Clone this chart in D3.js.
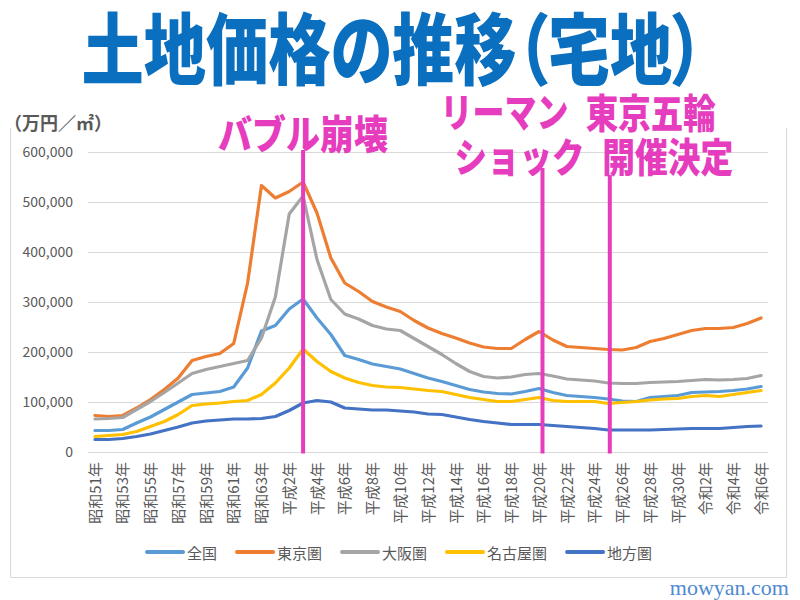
<!DOCTYPE html>
<html><head><meta charset="utf-8">
<script src="https://cdn.jsdelivr.net/npm/d3@7"></script>
<style>
html,body{margin:0;padding:0;background:#fff;}
svg{display:block;font-family:"Noto Sans CJK JP","Noto Sans",sans-serif;}
</style></head>
<body>
<script>
// ---- data ----
const categories = [
 "昭和51年","昭和52年","昭和53年","昭和54年","昭和55年","昭和56年","昭和57年","昭和58年","昭和59年","昭和60年",
 "昭和61年","昭和62年","昭和63年","平成元年","平成2年","平成3年","平成4年","平成5年","平成6年","平成7年",
 "平成8年","平成9年","平成10年","平成11年","平成12年","平成13年","平成14年","平成15年","平成16年","平成17年",
 "平成18年","平成19年","平成20年","平成21年","平成22年","平成23年","平成24年","平成25年","平成26年","平成27年",
 "平成28年","平成29年","平成30年","令和元年","令和2年","令和3年","令和4年","令和5年","令和6年"];
const seriesNames = ["全国","東京圏","大阪圏","名古屋圏","地方圏"];
const zenkoku = [43000,43000,45000,58000,70000,85000,100000,115000,118000,121000,130000,168000,242000,253000,286000,306000,268000,235000,193000,185000,176000,171000,166000,157000,148000,141000,133000,125000,120000,117000,116000,121000,127000,119000,113000,111000,109000,106000,102000,101000,109000,111000,113000,119000,120000,121000,123000,126000,131000];
const tokyo = [73000,71000,73000,88000,105000,125000,148000,183000,191000,197000,217000,338000,533000,508000,521000,540000,478000,388000,338000,321000,301000,290000,281000,263000,248000,237000,228000,218000,210000,207000,207000,225000,241000,224000,211000,209000,207000,205000,204000,209000,221000,227000,235000,243000,247000,247000,249000,257000,268000];
const osaka = [66000,67000,69000,85000,101000,119000,138000,157000,165000,171000,177000,183000,228000,310000,476000,512000,385000,305000,276000,266000,253000,246000,243000,227000,211000,195000,177000,161000,151000,148000,150000,155000,157000,152000,146000,144000,142000,138000,137000,137000,139000,140000,141000,143000,145000,144000,145000,147000,153000];
const nagoya = [31000,33000,35000,41000,51000,61000,75000,93000,96000,98000,101000,103000,115000,138000,168000,206000,181000,161000,148000,139000,133000,130000,129000,126000,123000,121000,115000,109000,105000,101000,101000,105000,109000,103000,101000,101000,101000,97000,99000,101000,104000,106000,107000,111000,113000,111000,115000,119000,123000];
const chiho = [25000,25000,27000,31000,36000,43000,50000,58000,62000,64000,66000,66000,67000,71000,83000,98000,103000,100000,88000,86000,84000,84000,82000,80000,76000,75000,70000,65000,61000,58000,55000,55000,55000,53000,51000,49000,47000,44000,44000,44000,44000,45000,46000,47000,47000,47000,49000,51000,52000];
const seriesColors = ["#5B9BD5","#ED7D31","#A5A5A5","#FFC000","#4472C4"];
const yTicks = [0,100000,200000,300000,400000,500000,600000];
const eventLabels = [["バブル崩壊"],["リーマン","ショック"],["東京五輪","開催決定"]];
const eventAt = [15, 32.25, 37.1];          // category position
const eventTop = [604000, 568000, 554000];   // top of marker line (value units)
const titleText = "土地価格の推移（宅地）";
const unitText = "（万円／㎡）";
const watermark = "mowyan.com";

// ---- drawing ----
const W = 800, H = 600;
const svg = d3.select("body").append("svg").attr("width", W).attr("height", H);
svg.append("rect").attr("width", W).attr("height", H).attr("fill", "#fff");

const x = d3.scaleLinear().domain([-0.5, categories.length - 0.5]).range([88, 768]);
const y = d3.scaleLinear().domain([0, 600000]).range([452, 152]);

// frame
svg.append("path").attr("d", "M10.5,128 V577.5 H786.5 V128")
  .attr("fill", "none").attr("stroke", "#d9d9d9").attr("stroke-width", 1);

// gridlines + y labels
const yAxis = d3.axisLeft(y).tickValues(yTicks).tickFormat(d3.format(",")).tickSize(-680).tickPadding(15);
const gy = svg.append("g").attr("transform", "translate(88,0)").call(yAxis);
gy.select(".domain").remove();
gy.selectAll(".tick line").attr("stroke", "#d9d9d9").attr("stroke-width", 1);
gy.selectAll(".tick text").attr("fill", "#595959").attr("font-size", 14)
  .attr("font-family", "'Noto Sans CJK JP',sans-serif");

// x labels
const xAxis = d3.axisBottom(x).tickValues(d3.range(0, categories.length, 2))
  .tickFormat(i => categories[i]).tickSize(0);
const gx = svg.append("g").attr("transform", "translate(0,452)").call(xAxis);
gx.select(".domain").remove();
gx.selectAll(".tick text")
  .attr("fill", "#595959").attr("font-size", 15)
  .attr("font-family", "'Noto Sans CJK JP',sans-serif")
  .attr("text-anchor", "end")
  .attr("transform", "rotate(-90)")
  .attr("x", -10).attr("y", 0).attr("dy", "0.35em");

// series
const allSeries = [zenkoku, tokyo, osaka, nagoya, chiho];
const line = d3.line().x((d, i) => x(i)).y(d => y(d));
svg.append("g").selectAll("path").data(allSeries).join("path")
  .attr("d", line).attr("fill", "none")
  .attr("stroke", (d, i) => seriesColors[i]).attr("stroke-width", 3.2)
  .attr("stroke-linejoin", "round").attr("stroke-linecap", "round");

// event lines
const magenta = "#E63DBE";
svg.append("g").selectAll("line").data(eventAt).join("line")
  .attr("x1", d => x(d)).attr("x2", d => x(d))
  .attr("y1", (d, i) => y(eventTop[i])).attr("y2", y(0) + 1.5)
  .attr("stroke", magenta).attr("stroke-width", 4);

// event labels (layout offsets relative to line, and fitted widths)
const evLayout = [[[0, 131.5, 170]], [[-38, 110, 128], [-23, 154.5, 130]], [[41, 110.5, 130], [58, 154.5, 131]]];
eventLabels.forEach((lines, k) => {
  lines.forEach((t, j) => {
    const [dx, cy, len] = evLayout[k][j];
    svg.append("text").text(t)
      .attr("x", x(eventAt[k]) + dx).attr("y", cy)
      .attr("textLength", len).attr("lengthAdjust", "spacingAndGlyphs")
      .attr("text-anchor", "middle").attr("dominant-baseline", "central")
      .attr("font-size", 40).attr("font-weight", 900).attr("fill", magenta);
  });
});

// title
svg.append("text").text(titleText)
  .attr("x", 392.5).attr("y", 45)
  .attr("textLength", 622).attr("lengthAdjust", "spacingAndGlyphs")
  .style("font-feature-settings", '"palt" 1')
  .attr("text-anchor", "middle").attr("dominant-baseline", "central")
  .attr("font-size", 78).attr("font-weight", 900).attr("fill", "#0A6FBE");

// unit label
svg.append("text").text(unitText).attr("x", 4).attr("y", 122)
  .attr("dominant-baseline", "central")
  .attr("font-size", 18).attr("font-weight", 700).attr("fill", "#595959");

// legend
let lx = 147;
const lg = svg.append("g");
seriesNames.forEach((n, i) => {
  lg.append("line").attr("x1", lx).attr("x2", lx + 36).attr("y1", 552).attr("y2", 552)
    .attr("stroke", seriesColors[i]).attr("stroke-width", 4).attr("stroke-linecap", "round");
  const t = lg.append("text").text(n).attr("x", lx + 40).attr("y", 552)
    .attr("dominant-baseline", "central").attr("font-size", 15).attr("fill", "#595959");
  lx += 40 + t.node().getComputedTextLength() + 20;
});

// watermark
svg.append("text").text(watermark).attr("x", 789).attr("y", 587)
  .attr("text-anchor", "end").attr("dominant-baseline", "central")
  .attr("font-family", "'Liberation Serif','DejaVu Serif',serif")
  .attr("font-size", 22).attr("fill", "#4F8AD0");
</script>
</body></html>
